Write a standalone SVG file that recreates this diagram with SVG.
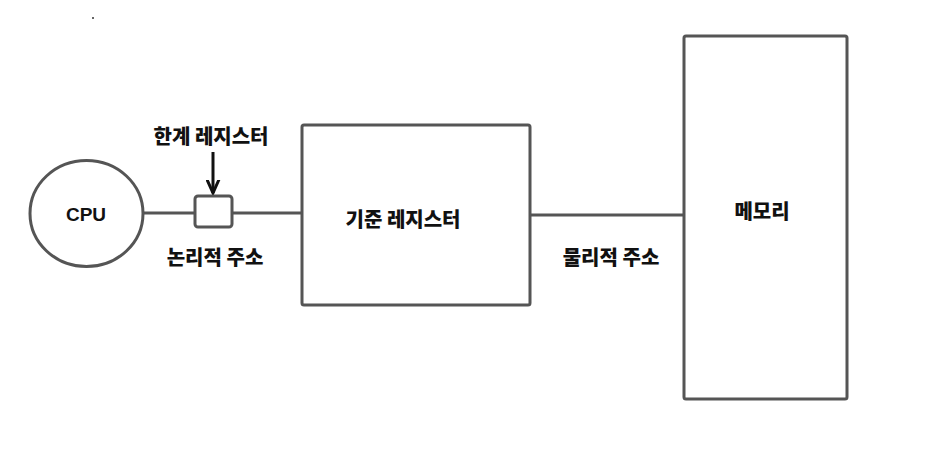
<svg xmlns="http://www.w3.org/2000/svg" width="930" height="449" viewBox="0 0 930 449">
<defs>
<style>
.s{fill:#fff;stroke:#555;stroke-width:3}
.l{fill:none;stroke:#555;stroke-width:3}
.t{font-family:"Noto Sans CJK KR","Noto Sans",sans-serif;font-weight:900;font-size:20px;fill:#111;text-anchor:middle}
.c{font-family:"Liberation Sans",Arial,sans-serif;font-weight:bold;font-size:19px;fill:#111;text-anchor:middle}
</style>
<marker id="ah" viewBox="0 0 10 10" refX="9" refY="5" markerWidth="5" markerHeight="5" orient="auto">
<path d="M0,1 L9,5 L0,9" fill="none" stroke="#111" stroke-width="2"/>
</marker>
</defs>
<rect width="930" height="449" fill="#fff"/>
<circle cx="93" cy="18" r="1" fill="#333"/>
<g id="connectors">
<line class="l" x1="143" y1="213" x2="195" y2="213"/>
<line class="l" x1="232" y1="213" x2="302" y2="213"/>
<line class="l" x1="530" y1="215" x2="684" y2="215"/>
<line x1="213" y1="152" x2="213" y2="193" stroke="#111" stroke-width="3" marker-end="url(#ah)"/>
</g>
<g id="cpu">
<ellipse class="s" cx="86.5" cy="213.5" rx="56.5" ry="53"/>
<text class="c" x="86" y="221">CPU</text>
</g>
<g id="limit">
<rect class="s" x="195" y="196" width="37" height="31" rx="3"/>
<text class="t" x="211" y="144">한계 레지스터</text>
</g>
<g id="logical">
<text class="t" x="215" y="265">논리적 주소</text>
</g>
<g id="base">
<rect class="s" x="302" y="125" width="228" height="180" rx="2"/>
<text class="t" x="403" y="227">기준 레지스터</text>
</g>
<g id="physical">
<text class="t" x="611" y="265">물리적 주소</text>
</g>
<g id="memory">
<rect class="s" x="684" y="36" width="163" height="363" rx="2"/>
<text class="t" x="762" y="219">메모리</text>
</g>
</svg>
